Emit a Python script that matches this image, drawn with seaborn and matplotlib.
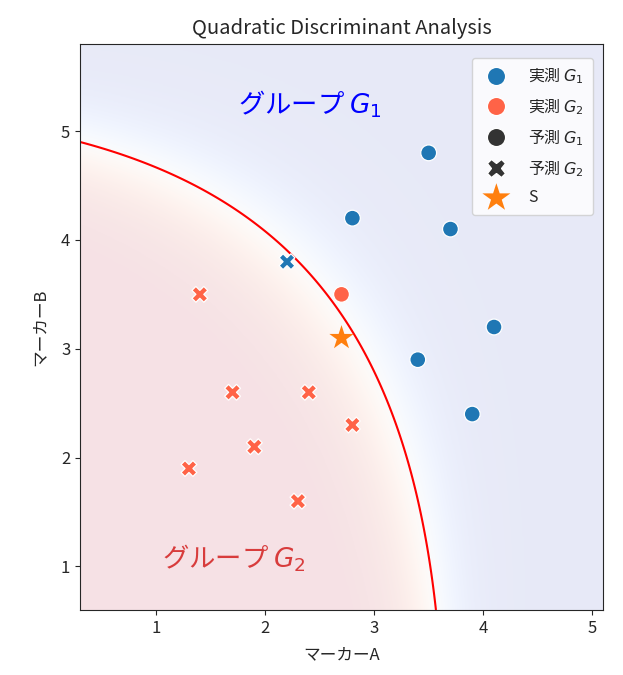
import numpy as np
import pandas as pd
import matplotlib
matplotlib.use("Agg")
import matplotlib.pyplot as plt
import seaborn as sns

# ---- data ----
marker_a = [3.5, 2.8, 3.7, 4.1, 3.4, 3.9, 2.2,
            2.7, 1.4, 1.7, 2.4, 2.8, 1.9, 1.3, 2.3]
marker_b = [4.8, 4.2, 4.1, 3.2, 2.9, 2.4, 3.8,
            3.5, 3.5, 2.6, 2.6, 2.3, 2.1, 1.9, 1.6]
actual = ["G1"] * 7 + ["G2"] * 8
predicted = ["G1", "G1", "G1", "G1", "G1", "G1", "G2",
             "G1", "G2", "G2", "G2", "G2", "G2", "G2", "G2"]
sample_s = [2.7, 3.1]

hue_labels = {"G1": "実測 $G_1$", "G2": "実測 $G_2$"}
style_labels = {"G1": "予測 $G_1$", "G2": "予測 $G_2$"}

df = pd.DataFrame({
    "マーカーA": marker_a,
    "マーカーB": marker_b,
    "実測": [hue_labels[a] for a in actual],
    "予測": [style_labels[p] for p in predicted],
})

# ---- QDA fitted on the data ----
X = np.column_stack([marker_a, marker_b])
y = np.array(actual)
params = {}
for g in ["G1", "G2"]:
    Xg = X[y == g]
    mu = Xg.mean(axis=0)
    cov = np.cov(Xg, rowvar=False, ddof=1)
    params[g] = (mu, np.linalg.inv(cov), np.log(np.linalg.det(cov)), np.log(len(Xg) / len(X)))

def log_score(P, g):
    mu, icov, logdet, logprior = params[g]
    D = P - mu
    return -0.5 * logdet - 0.5 * np.einsum("ij,jk,ik->i", D, icov, D) + logprior

x_min, x_max = min(marker_a) - 1, max(marker_a) + 1
y_min, y_max = min(marker_b) - 1, max(marker_b) + 1
xx, yy = np.meshgrid(np.linspace(x_min, x_max, 500), np.linspace(y_min, y_max, 500))
P = np.column_stack([xx.ravel(), yy.ravel()])
s1 = log_score(P, "G1")
s2 = log_score(P, "G2")
prob_g2 = (1.0 / (1.0 + np.exp(s1 - s2))).reshape(xx.shape)
dec = (s2 - s1).reshape(xx.shape)

# ---- plot ----
sns.set_style("ticks")
plt.rcParams["font.family"] = ["Noto Sans CJK JP", "DejaVu Sans"]
plt.rcParams["mathtext.fontset"] = "dejavusans"

fig, ax = plt.subplots(figsize=(6.23, 6.75), dpi=100)
fig.subplots_adjust(left=80 / 623, right=603 / 623, top=1 - 44 / 675, bottom=1 - 610 / 675)

ax.imshow(prob_g2, extent=(x_min, x_max, y_min, y_max), origin="lower",
          cmap="coolwarm", vmin=0, vmax=1, alpha=0.12, aspect="auto", zorder=0)
ax.contour(xx, yy, dec, levels=[0], colors="red", linewidths=1.5, zorder=1)

sns.scatterplot(data=df, x="マーカーA", y="マーカーB", hue="実測", style="予測",
                hue_order=list(hue_labels.values()), style_order=list(style_labels.values()),
                palette=["#1f77b4", "#ff6347"], markers=["o", "X"], s=130,
                ax=ax, zorder=3)
sns.scatterplot(x=[sample_s[0]], y=[sample_s[1]], marker="*", s=340, color="#ff7f0e",
                edgecolor="none", label="S", ax=ax, zorder=4)

ax.text(2.41, 5.25, "グループ $G_1$", color="blue", fontsize=19, ha="center", va="center")
ax.text(1.71, 1.08, "グループ $G_2$", color="#d83c3c", fontsize=19, ha="center", va="center")

ax.set_xlim(x_min, x_max)
ax.set_ylim(y_min, y_max)
ax.set_title("Quadratic Discriminant Analysis", fontsize=14.5, pad=7)
ax.set_xlabel("マーカーA", fontsize=12, labelpad=7)
ax.set_ylabel("マーカーB", fontsize=12, labelpad=9)
ax.tick_params(labelsize=12)

handles, labels = ax.get_legend_handles_labels()
keep = [(h, l) for h, l in zip(handles, labels) if l not in ("実測", "予測")]
ax.legend([h for h, _ in keep], [l for _, l in keep], loc="upper right",
          bbox_to_anchor=(1 - 10 / 523, 1 - 14 / 566), borderaxespad=0,
          fontsize=11.5, borderpad=0.55, labelspacing=0.65, handletextpad=1.0,
          markerscale=1.15)

fig.savefig("out.png", dpi=100)
